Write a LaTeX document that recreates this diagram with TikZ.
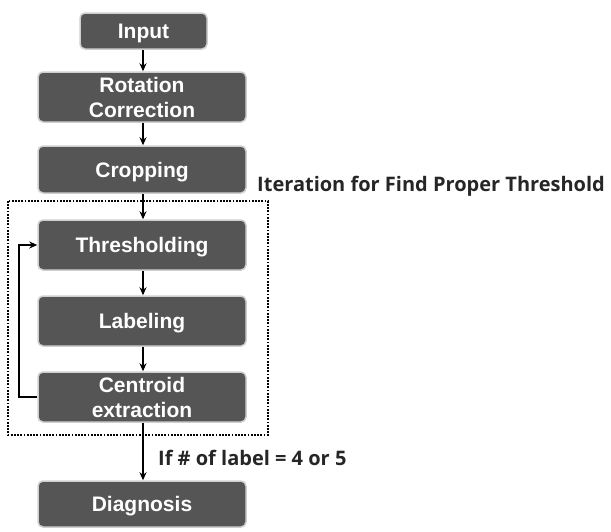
\documentclass[tikz,border=0pt]{standalone}
\usepackage{fontspec}
\setmainfont{Liberation Sans}
\newfontfamily\lblfont{Open Sans}
\usetikzlibrary{arrows.meta}
\definecolor{boxgray}{HTML}{555555}
\definecolor{edgegray}{HTML}{CFCFCF}
\begin{document}
\begin{tikzpicture}[x=1pt,y=-1pt,
  stepbox/.style={draw=edgegray,line width=1.5pt,fill=boxgray,rounded corners=5pt,
    minimum width=208pt,minimum height=50pt,text=white,align=center,
    font=\fontsize{21}{25}\selectfont\bfseries,inner sep=0pt,text depth=0pt},
  arr/.style={-{Stealth[length=8pt,width=7pt]},line width=1.4pt,black},
  lbl/.style={font=\lblfont\fontsize{20}{24}\selectfont\bfseries,text=black!85,anchor=west,inner sep=0pt}]
\useasboundingbox (0,0) rectangle (611,531);
\node[stepbox,minimum width=127pt,minimum height=36pt] (input) at (143.5,31) {Input};
\node[stepbox] (rot) at (142,97) {Rotation\\Correction};
\node[stepbox,minimum height=47pt] (crop) at (142,169.5) {Cropping};
\node[stepbox] (thr) at (142,245) {Thresholding};
\node[stepbox] (lab) at (142,321) {Labeling};
\node[stepbox] (cen) at (142,397) {Centroid\\extraction};
\node[stepbox,minimum height=46pt] (diag) at (142,504) {Diagnosis};
\draw[black,line width=2.6pt,dash pattern=on 1.8pt off 1.4pt] (8,201) rectangle (268,435);
\coordinate (loopb) at (19,397);
\coordinate (loopt) at (19,245);
\draw[arr] (input.south -| 143,0) -- (rot.north -| 143,0);
\draw[arr] (rot.south -| 143,0) -- (crop.north -| 143,0);
\draw[arr] (crop.south -| 143,0) -- (thr.north -| 143,0);
\draw[arr] (thr.south -| 143,0) -- (lab.north -| 143,0);
\draw[arr] (lab.south -| 143,0) -- (cen.north -| 143,0);
\draw[arr] (cen.south -| 143,0) -- (diag.north -| 143,0);
\draw[arr] (cen.west) -- (loopb) -- (loopt) -- (thr.west);
\node[lbl] (iter) at (257,186) {Iteration for Find Proper Threshold};
\node[lbl] (cond) at (158,458) {If \# of label = 4 or 5};
\end{tikzpicture}
\end{document}
